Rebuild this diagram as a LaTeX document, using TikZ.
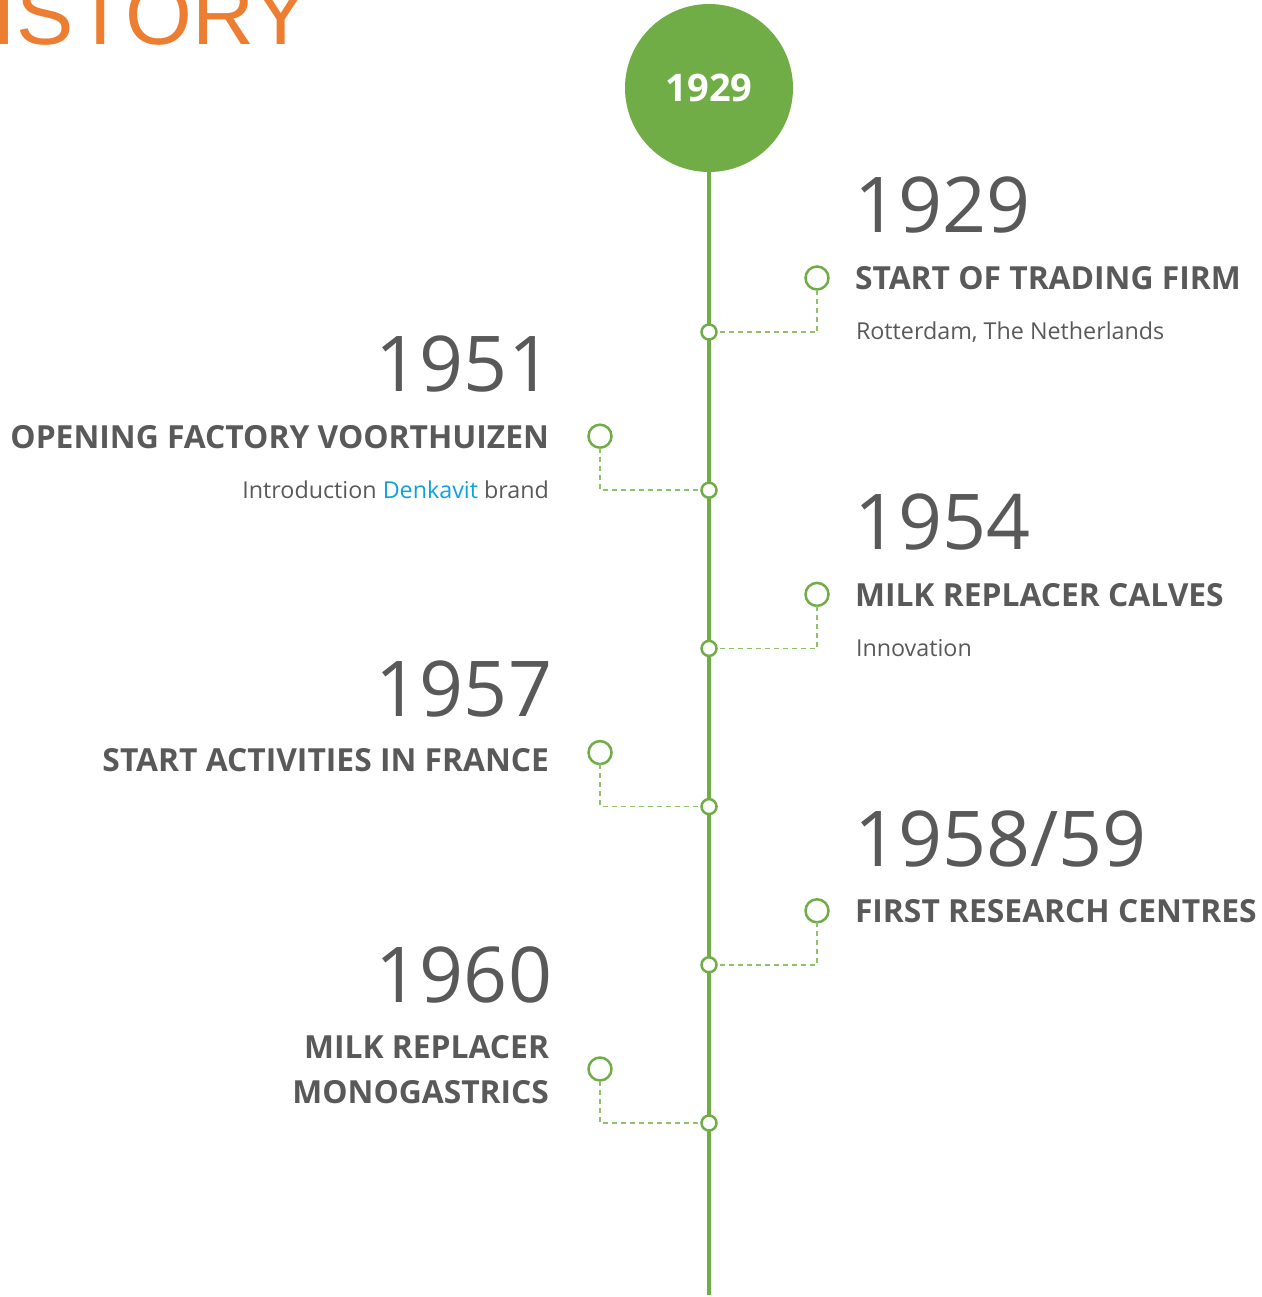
\documentclass[tikz,border=0pt]{standalone}
\usepackage{fontspec}
\setmainfont{Open Sans}
\newfontfamily\headfont{Liberation Sans}
\definecolor{tlgreen}{HTML}{70AD47}
\definecolor{dashgreen}{HTML}{8DC26A}
\definecolor{txtgray}{HTML}{595959}
\definecolor{headorange}{HTML}{ED7D31}
\definecolor{brandblue}{HTML}{0FA0E0}
\begin{document}
\begin{tikzpicture}[x=1pt,y=-1pt,
  every node/.style={inner sep=0pt,outer sep=0pt},
  year/.style={font=\fontsize{77}{77}\selectfont,text=txtgray},
  title/.style={font=\bfseries\fontsize{31.8}{45}\selectfont,text=txtgray},
  sub/.style={font=\fontsize{23.3}{26}\selectfont,text=txtgray},
  dot/.style={circle,draw=tlgreen,line width=2.5pt,fill=white,minimum size=15pt},
  ring/.style={circle,draw=tlgreen,line width=2.5pt,fill=white,minimum size=23pt},
  link/.style={draw=dashgreen,line width=1.5pt,dash pattern=on 5pt off 4pt}]

  \useasboundingbox (0,0) rectangle (1261,1297);

  \node[anchor=base west,font=\headfont\fontsize{86}{86}\selectfont,text=headorange] (head) at (-7,45) {ISTORY};

  \node[circle,fill=tlgreen,minimum size=168pt,text=white,font=\bfseries\fontsize{38}{38}\selectfont] (top) at (709,88) {1929};
  \coordinate (end) at (709,1295);
  \draw[tlgreen,line width=4pt] (top.south) -- (end);

  \foreach \i/\x in {0/817,1/600,2/817,3/600,4/817,5/600}{
  \node[dot] (d\i) at (709,{332+158.2*\i}) {};
  \node[ring] (o\i) at (\x,{278+158.2*\i}) {};
  \draw[link] (o\i) |- (d\i);
  }

  % right side
  \node[year,anchor=base west] (y0) at (854,233) {1929};
  \node[title,anchor=base west] (t0) at (855,289) {START OF TRADING FIRM};
  \node[sub,anchor=base west] (s0) at (856,339) {Rotterdam, The Netherlands};

  \node[year,anchor=base west] (y2) at (854,549) {1954};
  \node[title,anchor=base west] (t2) at (855,606) {MILK REPLACER CALVES};
  \node[sub,anchor=base west] (s2) at (856,656) {Innovation};

  \node[year,anchor=base west] (y4) at (854,866) {1958/59};
  \node[title,anchor=base west] (t4) at (855,922) {FIRST RESEARCH CENTRES};

  % left side
  \node[year,anchor=base east] (y1) at (552,391) {1951};
  \node[title,anchor=base east] (t1) at (549,448) {OPENING FACTORY VOORTHUIZEN};
  \node[sub,anchor=base east] (s1) at (549,498) {Introduction {\color{brandblue}Denkavit} brand};

  \node[year,anchor=base east] (y3) at (552,716) {1957};
  \node[title,anchor=base east] (t3) at (549,771) {START ACTIVITIES IN FRANCE};

  \node[year,anchor=base east] (y5) at (552,1002) {1960};
  \node[title,anchor=base east,align=right] (t5) at (549,1103) {MILK REPLACER\\MONOGASTRICS};

\end{tikzpicture}
\end{document}
